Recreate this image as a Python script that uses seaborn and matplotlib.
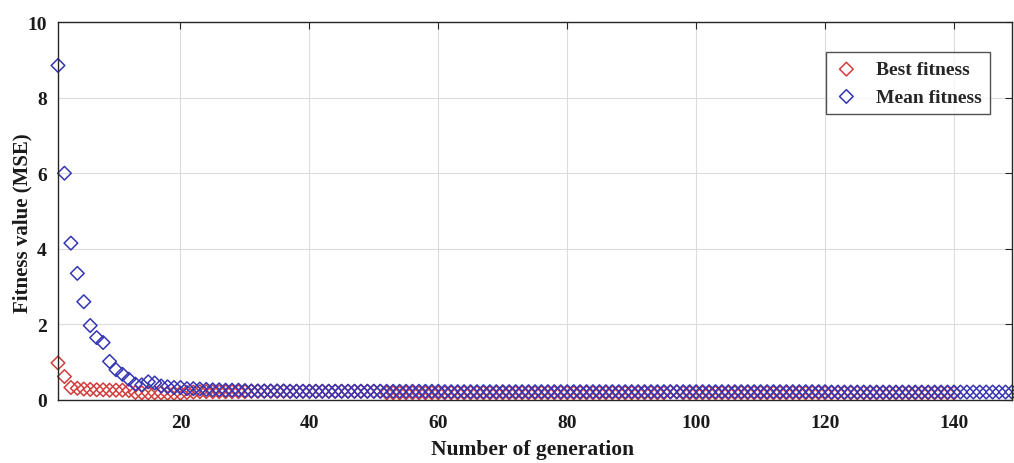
import numpy as np
import pandas as pd
import seaborn as sns
import matplotlib.pyplot as plt

sns.set_style("white")
plt.rcParams['font.family'] = ['Liberation Serif', 'DejaVu Serif']
plt.rcParams['font.weight'] = 'bold'

# Best fitness per generation (gens 1..140)
best_fitness = [
    0.98, 0.62, 0.33, 0.31, 0.29, 0.28, 0.27, 0.27, 0.26, 0.26,
    0.26, 0.25, 0.20, 0.19, 0.19, 0.19, 0.19, 0.18, 0.18, 0.18,
    0.20, 0.21, 0.22, 0.22, 0.22, 0.22, 0.22, 0.22, 0.22, 0.22,
    0.23, 0.23, 0.23, 0.23, 0.23, 0.23, 0.23, 0.23, 0.23, 0.23,
    0.23, 0.23, 0.23, 0.23, 0.23, 0.23, 0.23, 0.23, 0.23, 0.23,
    0.23, 0.19, 0.19, 0.19, 0.19, 0.19, 0.19, 0.19, 0.19, 0.19,
    0.19, 0.19, 0.19, 0.19, 0.19, 0.19, 0.19, 0.19, 0.19, 0.19,
    0.19, 0.19, 0.19, 0.19, 0.19, 0.19, 0.19, 0.19, 0.19, 0.19,
    0.19, 0.19, 0.19, 0.19, 0.19, 0.19, 0.19, 0.19, 0.19, 0.19,
    0.19, 0.19, 0.19, 0.19, 0.19, 0.21, 0.21, 0.19, 0.19, 0.19,
    0.19, 0.19, 0.19, 0.19, 0.19, 0.19, 0.19, 0.19, 0.19, 0.19,
    0.19, 0.19, 0.19, 0.19, 0.19, 0.19, 0.19, 0.19, 0.19, 0.19,
    0.19, 0.19, 0.19, 0.19, 0.19, 0.19, 0.19, 0.19, 0.19, 0.19,
    0.19, 0.19, 0.19, 0.19, 0.19, 0.19, 0.19, 0.19, 0.19, 0.19,
]

# Mean fitness per generation (gens 1..150)
mean_fitness = [
    8.85, 6.00, 4.15, 3.35, 2.60, 1.97, 1.65, 1.52, 1.02, 0.80,
    0.68, 0.55, 0.42, 0.40, 0.48, 0.45, 0.37, 0.35, 0.33, 0.33,
    0.30, 0.30, 0.29, 0.28, 0.27, 0.27, 0.26, 0.26, 0.26, 0.25,
    0.24, 0.24, 0.24, 0.24, 0.24, 0.24, 0.23, 0.23, 0.23, 0.23,
    0.23, 0.23, 0.23, 0.23, 0.23, 0.23, 0.23, 0.23, 0.23, 0.23,
    0.23, 0.23, 0.23, 0.23, 0.23, 0.23, 0.23, 0.23, 0.23, 0.23,
    0.22, 0.22, 0.22, 0.22, 0.22, 0.22, 0.22, 0.22, 0.22, 0.22,
    0.22, 0.22, 0.22, 0.22, 0.22, 0.22, 0.22, 0.22, 0.22, 0.22,
    0.22, 0.22, 0.22, 0.22, 0.22, 0.22, 0.22, 0.22, 0.22, 0.22,
    0.22, 0.22, 0.22, 0.22, 0.22, 0.22, 0.22, 0.22, 0.22, 0.22,
    0.22, 0.22, 0.22, 0.22, 0.22, 0.22, 0.22, 0.22, 0.22, 0.22,
    0.22, 0.22, 0.22, 0.22, 0.22, 0.22, 0.22, 0.22, 0.22, 0.22,
    0.21, 0.21, 0.21, 0.21, 0.21, 0.21, 0.21, 0.21, 0.21, 0.21,
    0.21, 0.21, 0.21, 0.21, 0.21, 0.21, 0.21, 0.21, 0.21, 0.21,
    0.21, 0.21, 0.21, 0.21, 0.21, 0.21, 0.21, 0.21, 0.21, 0.21,
]

x_ticks = [20, 40, 60, 80, 100, 120, 140]
y_ticks = [0, 2, 4, 6, 8, 10]

best_df = pd.DataFrame({"gen": np.arange(1, len(best_fitness) + 1), "val": best_fitness})
mean_df = pd.DataFrame({"gen": np.arange(1, len(mean_fitness) + 1), "val": mean_fitness})

fig = plt.figure(figsize=(10.14, 4.64), dpi=100)
ax = fig.add_axes([0.0572, 0.1358, 0.9408, 0.8146])

sns.scatterplot(data=best_df, x="gen", y="val", marker="D", s=48,
                facecolors="none", edgecolor="#d43c3c", linewidth=1.1,
                label="Best fitness", ax=ax, clip_on=False)
sns.scatterplot(data=mean_df, x="gen", y="val", marker="D", s=48,
                facecolors="none", edgecolor="#3535b5", linewidth=1.1,
                label="Mean fitness", ax=ax, clip_on=False)

ax.set_xlim(1, 149)
ax.set_ylim(0, 10)
ax.set_xticks(x_ticks)
ax.set_yticks(y_ticks)
ax.grid(True, color="#dcdcdc", linewidth=0.8)
ax.set_axisbelow(True)
ax.tick_params(direction="in", top=True, right=True, length=5,
               labelsize=14, color="#262626", labelcolor="#1a1a1a")
ax.tick_params(axis="x", pad=10)
ax.tick_params(axis="y", pad=8)
for lab in ax.get_xticklabels() + ax.get_yticklabels():
    lab.set_fontweight("bold")
for sp in ax.spines.values():
    sp.set_color("#262626")
    sp.set_linewidth(1.0)

ax.set_xlabel("Number of generation", fontsize=15.5, fontweight="bold", color="#1a1a1a")
ax.set_ylabel("Fitness value (MSE)", fontsize=15, fontweight="bold", color="#1a1a1a")
ax.xaxis.set_label_coords(0.497, -0.103)
ax.yaxis.set_label_coords(-0.027, 0.47)

leg = ax.legend(loc="upper right", bbox_to_anchor=(0.977, 0.921), borderaxespad=0,
                fancybox=False, frameon=True, prop={"weight": "bold", "size": 14},
                handletextpad=0.9, borderpad=0.45, labelspacing=0.5,
                handlelength=1.2)
leg.get_frame().set_edgecolor("#262626")
leg.get_frame().set_linewidth(1.0)

out_file = "out.png"
fig.savefig(out_file, dpi=100)
print(f"Plot saved to {out_file}")
